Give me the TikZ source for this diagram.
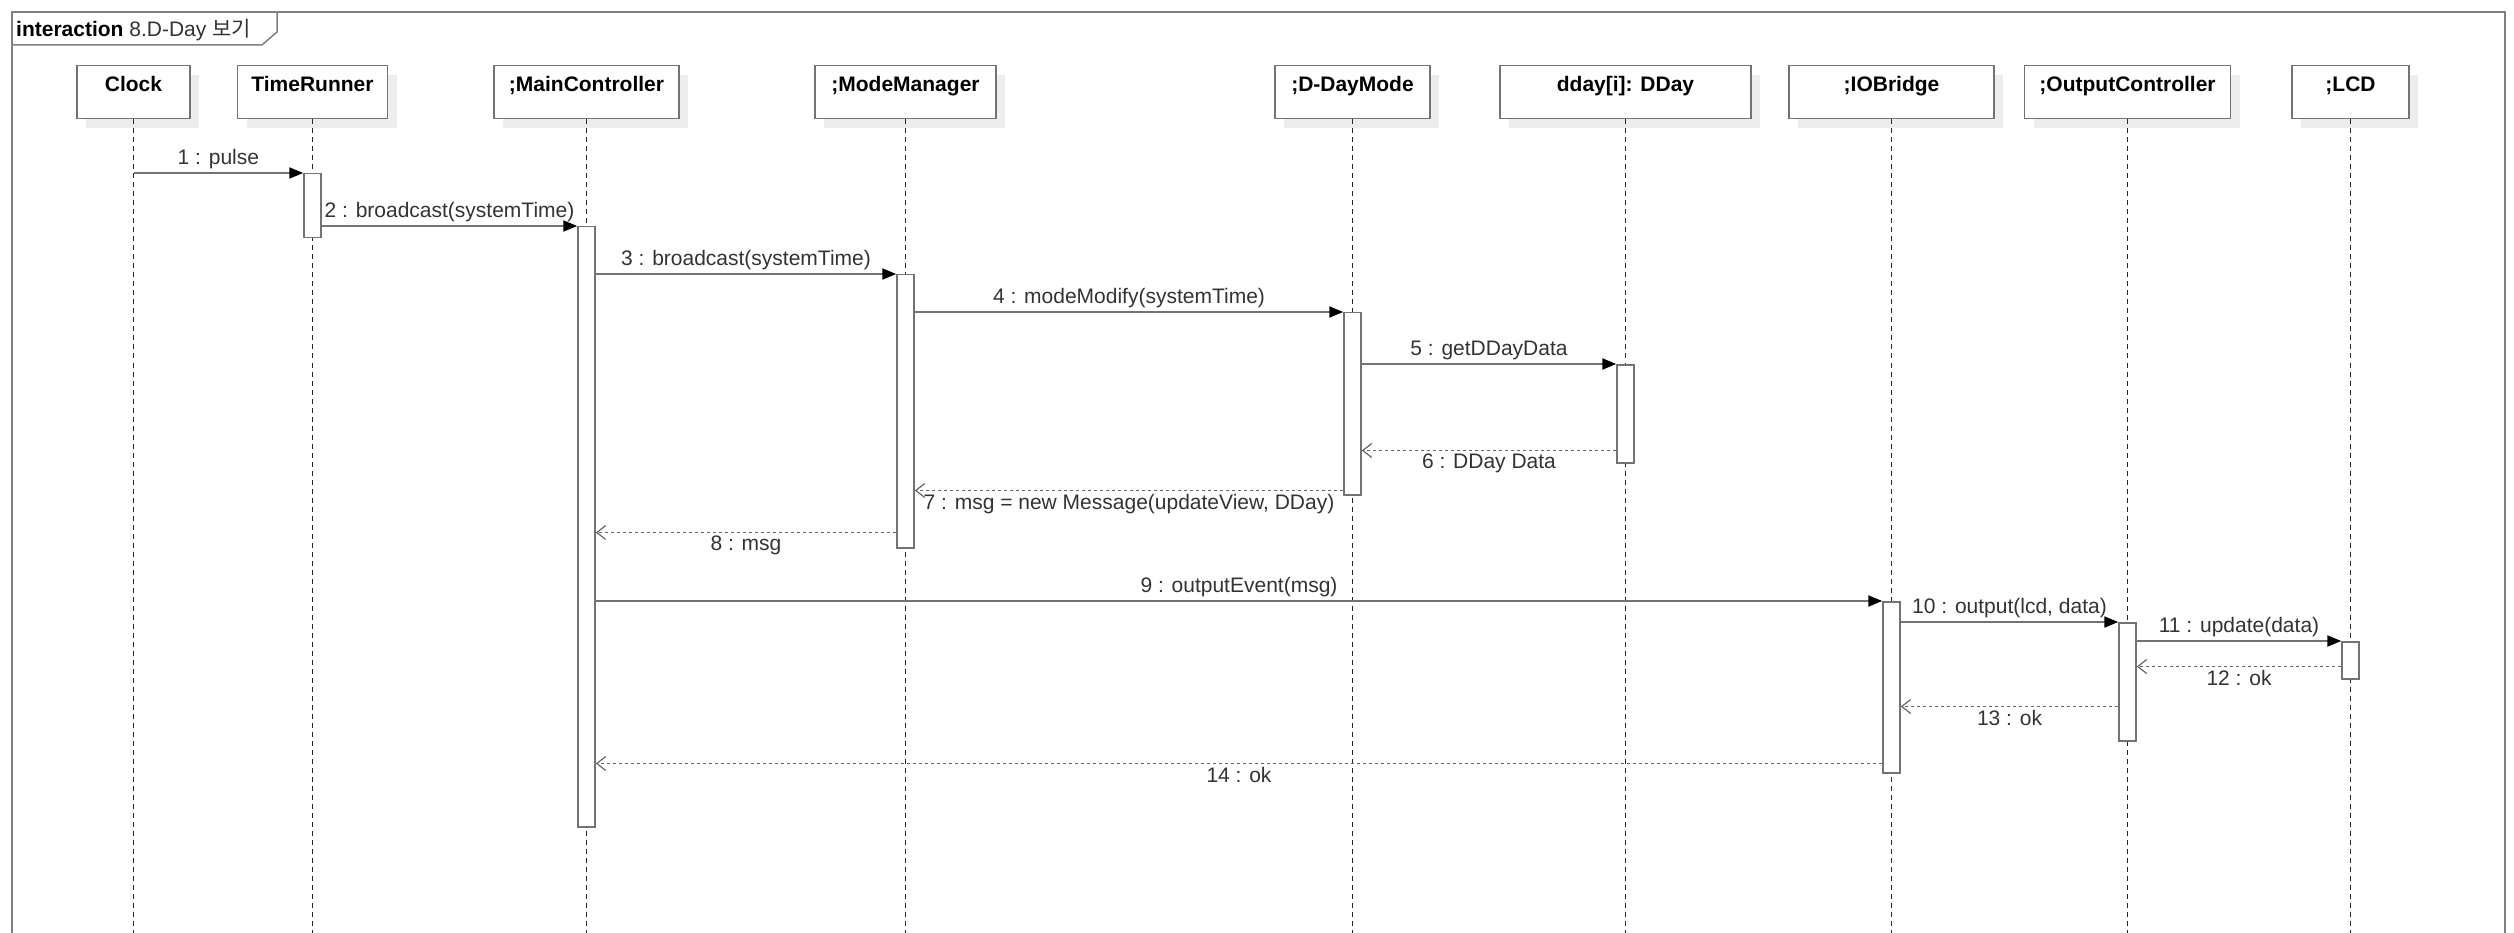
\documentclass[tikz,border=0pt]{standalone}
\usepackage{fontspec}
\setmainfont{Liberation Sans}
\newfontfamily\kofont{Noto Sans CJK KR}
\usetikzlibrary{arrows.meta,shadows}

\begin{document}
\begin{tikzpicture}[x=1pt,y=-1pt,
    every node/.style={font=\fontsize{21}{25}\selectfont},
    obj/.style={draw=black!55,line width=1.5pt,fill=white,anchor=north,inner xsep=0pt,inner ysep=0pt,text height=26pt,text depth=27pt,font=\fontsize{21}{25}\selectfont\bfseries,general shadow={fill=black!7,shadow xshift=9pt,shadow yshift=-9pt}},
    life/.style={black!85,line width=1.2pt,dash pattern=on 5pt off 4pt},
    act/.style={draw=black!55,line width=1.5pt,fill=white,anchor=north,minimum width=17pt,inner sep=0pt},
    call/.style={draw=black!55,line width=2pt,-{Triangle[length=14pt,width=11pt,black]}},
    ret/.style={draw=black!60,line width=1.5pt,dash pattern=on 3pt off 3pt,-{Straight Barb[length=9pt,width=14pt,line width=1.2pt]}},
    lbl/.style={text=black!80,inner sep=3pt}]
    \useasboundingbox (0,0) rectangle (2514,933);
    \draw[black!50,line width=2pt] (12,933) -- (12,12) -- (2505,12) -- (2505,933);
    \draw[black!50,line width=1.5pt] (12,45) -- (262,45) -- (277,32) -- (277,12);
    \node(title)[anchor=base west,inner sep=0pt] at (16,37){\textbf{interaction} \textcolor{black!80}{8.D-Day {\kofont 보기}}};
    \coordinate(bot) at (0,933);
    \node(clk)[obj,minimum width=113pt] at (133.5,65){Clock};
    \node(tr)[obj,minimum width=150pt] at (312.5,65){TimeRunner};
    \node(mc)[obj,minimum width=185pt] at (586.5,65){;MainController};
    \node(mm)[obj,minimum width=181pt] at (905.5,65){;ModeManager};
    \node(ddm)[obj,minimum width=155pt] at (1352.5,65){;D-DayMode};
    \node(dd)[obj,minimum width=251pt] at (1625.5,65){dday[i]: DDay};
    \node(io)[obj,minimum width=205pt] at (1891.5,65){;IOBridge};
    \node(oc)[obj,minimum width=206pt] at (2127.5,65){;OutputController};
    \node(lcd)[obj,minimum width=117pt] at (2350.5,65){;LCD};
    \draw[life] (clk.south) -- (clk.south |- bot);
    \draw[life] (tr.south) -- (tr.south |- bot);
    \draw[life] (mc.south) -- (mc.south |- bot);
    \draw[life] (mm.south) -- (mm.south |- bot);
    \draw[life] (ddm.south) -- (ddm.south |- bot);
    \draw[life] (dd.south) -- (dd.south |- bot);
    \draw[life] (io.south) -- (io.south |- bot);
    \draw[life] (oc.south) -- (oc.south |- bot);
    \draw[life] (lcd.south) -- (lcd.south |- bot);
    \node(tra)[act,minimum height=64pt] at (312.5,173){};
    \node(mca)[act,minimum height=600pt] at (586.5,226){};
    \node(mma)[act,minimum height=273pt] at (905.5,274){};
    \node(ddma)[act,minimum height=182pt] at (1352.5,312){};
    \node(dda)[act,minimum height=98pt] at (1625.5,364){};
    \node(ioa)[act,minimum height=171pt] at (1891.5,601){};
    \node(oca)[act,minimum height=118pt] at (2127.5,622){};
    \node(lcda)[act,minimum height=37pt] at (2350.5,641){};
    \draw[call] (clk |- tra.north) -- node[lbl,above]{1 : pulse} (tra.north west);
    \draw[call] (tra.east |- mca.north) -- node[lbl,above]{2 : broadcast(systemTime)} (mca.north west);
    \draw[call] (mca.east |- mma.north) -- node[lbl,above]{3 : broadcast(systemTime)} (mma.north west);
    \draw[call] (mma.east |- ddma.north) -- node[lbl,above]{4 : modeModify(systemTime)} (ddma.north west);
    \draw[call] (ddma.east |- dda.north) -- node[lbl,above]{5 : getDDayData} (dda.north west);
    \coordinate(r6) at ([yshift=13pt]dda.south west);
    \draw[ret] (r6) -- node[lbl,below]{6 : DDay Data} (ddma.east |- r6);
    \coordinate(r7) at ([yshift=5pt]ddma.south west);
    \draw[ret] (r7) -- node[lbl,below]{7 : msg = new Message(updateView, DDay)} (mma.east |- r7);
    \coordinate(r8) at ([yshift=16pt]mma.south west);
    \draw[ret] (r8) -- node[lbl,below]{8 : msg} (mca.east |- r8);
    \draw[call] (mca.east |- ioa.north) -- node[lbl,above]{9 : outputEvent(msg)} (ioa.north west);
    \draw[call] (ioa.east |- oca.north) -- node[lbl,above]{10 : output(lcd, data)} (oca.north west);
    \draw[call] (oca.east |- lcda.north) -- node[lbl,above]{11 : update(data)} (lcda.north west);
    \coordinate(r12) at ([yshift=13pt]lcda.south west);
    \draw[ret] (r12) -- node[lbl,below]{12 : ok} (oca.east |- r12);
    \coordinate(r13) at ([yshift=35pt]oca.south west);
    \draw[ret] (r13) -- node[lbl,below]{13 : ok} (ioa.east |- r13);
    \coordinate(r14) at ([yshift=10pt]ioa.south west);
    \draw[ret] (r14) -- node[lbl,below]{14 : ok} (mca.east |- r14);
\end{tikzpicture}
\end{document}
